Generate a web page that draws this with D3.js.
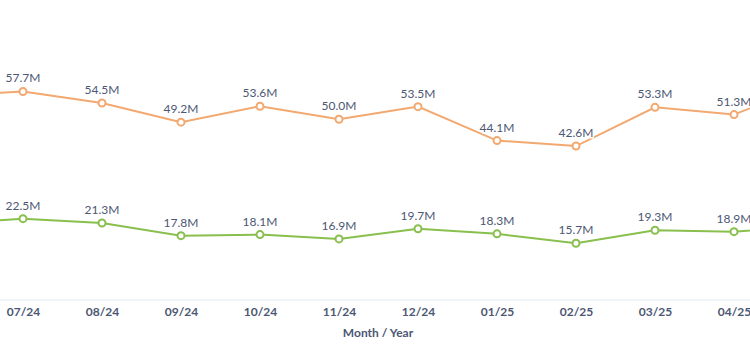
<!DOCTYPE html>
<html>
<head>
<meta charset="utf-8">
<script src="https://cdn.jsdelivr.net/npm/d3@7"></script>
<style>
  body { margin: 0; background: #fff; }
  svg { display: block; font-family: Lato, "Open Sans", sans-serif; }
</style>
</head>
<body>
<div id="chart"></div>
<script>

// month labels (first and last fall just outside the visible area)
var months = ["06/24", "07/24", "08/24", "09/24", "10/24", "11/24", "12/24",
              "01/25", "02/25", "03/25", "04/25", "05/25"];

// values in millions
var seriesA = [56.4, 57.7, 54.5, 49.2, 53.6, 50.0, 53.5, 44.1, 42.6, 53.3, 51.3, 60.0];
var seriesB = [21.1, 22.5, 21.3, 17.8, 18.1, 16.9, 19.7, 18.3, 15.7, 19.3, 18.9, 20.5];

var w = 750;
var h = 350;
var textColor = "#4c5773";

var svg = d3.select("#chart")
            .append("svg")
            .attr("width", w)
            .attr("height", h);

var xScale = d3.scalePoint()
               .domain(months)
               .range([-56, 813]);

var yScale = d3.scaleLinear()
               .domain([0, 83])
               .range([300, 0]);

// only label what falls inside the window
function visible(m){
	var x = xScale(m);
	return x > 0 && x < w;
}

// x axis
var xAxis = d3.axisBottom(xScale)
              .tickValues(months.filter(visible))
              .tickSize(0)
              .tickPadding(7);

var gx = svg.append("g")
            .attr("transform", "translate(0," + 300 + ")")
            .call(xAxis);

gx.select(".domain").remove();
gx.append("line")
  .attr("x1", 0)
  .attr("x2", w)
  .attr("stroke", "#edf0f3")
  .attr("stroke-width", 1.5);

gx.selectAll("text")
  .attr("fill", textColor)
  .attr("font-size", 12)
  .attr("font-weight", 700)
  .attr("font-family", "Lato, sans-serif");

svg.append("text")
   .attr("x", 378)
   .attr("y", 337)
   .attr("text-anchor", "middle")
   .attr("fill", textColor)
   .attr("font-size", 12)
   .attr("font-weight", 700)
   .text("Month / Year");

function drawSeries(values, color){
	var data = months.map(function(m, i){ return [m, values[i]]; });

	var line = d3.line()
	             .x(function(d){ return xScale(d[0]); })
	             .y(function(d){ return yScale(d[1]); });

	svg.append("path")
	   .datum(data)
	   .attr("fill", "none")
	   .attr("stroke", color)
	   .attr("stroke-width", 2)
	   .attr("d", line);

	var g = svg.append("g");

	g.selectAll("circle")
	 .data(data)
	 .enter()
	 .append("circle")
	 .attr("cx", function(d){ return xScale(d[0]); })
	 .attr("cy", function(d){ return yScale(d[1]); })
	 .attr("r", 3.5)
	 .attr("fill", "#fff")
	 .attr("stroke", color)
	 .attr("stroke-width", 2);

	g.selectAll("text")
	 .data(data.filter(function(d){ return visible(d[0]); }))
	 .enter()
	 .append("text")
	 .attr("x", function(d){ return xScale(d[0]); })
	 .attr("y", function(d){ return yScale(d[1]) - 9; })
	 .attr("text-anchor", "middle")
	 .attr("fill", textColor)
	 .attr("font-size", 12)
	 .attr("stroke", "#fff")
	 .attr("stroke-width", 3)
	 .attr("paint-order", "stroke")
	 .text(function(d){ return d[1].toFixed(1) + "M"; });
}

drawSeries(seriesA, "#f2a86f");
drawSeries(seriesB, "#88bf4d");

</script>
</body>
</html>
